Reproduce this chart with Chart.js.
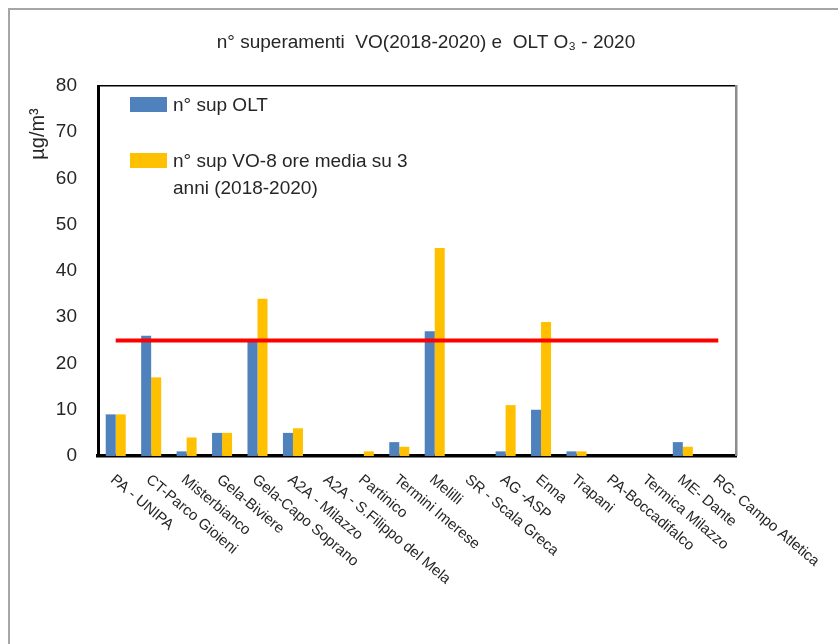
<!DOCTYPE html>
<html>
<head>
<meta charset="utf-8">
<script src="https://cdn.jsdelivr.net/npm/chart.js@4/dist/chart.umd.min.js"></script>
<style>
  html, body { margin: 0; padding: 0; background: #fff; overflow: hidden; }
  #wrap { position: relative; width: 838px; height: 644px; }
</style>
</head>
<body>
<div id="wrap"><canvas id="chart" width="838" height="644"></canvas></div>
<script>
try {

    // stations (x categories)
    const stations = [
      'PA - UNIPA', 'CT-Parco Gioieni', 'Misterbianco', 'Gela-Biviere',
      'Gela-Capo Soprano', 'A2A - Milazzo', 'A2A - S.Filippo del Mela',
      'Partinico', 'Termini Imerese', 'Melilli', 'SR - Scala Greca',
      'AG -ASP', 'Enna', 'Trapani', 'PA-Boccadifalco', 'Termica Milazzo',
      'ME- Dante', 'RG- Campo Atletica'
    ];

    // n° superamenti OLT 2020
    const supOLT = [9, 26, 1, 5, 25, 5, 0, 0, 3, 27, 0, 1, 10, 1, 0, 0, 3, 0];

    // n° superamenti VO, media 3 anni
    const supVO = [9, 17, 4, 5, 34, 6, 0, 1, 2, 45, 0, 11, 29, 1, 0, 0, 2, 0];

    // valore obiettivo (25 superamenti)
    const limitVO = [25, 25, 25, 25, 25, 25, 25, 25, 25, 25, 25, 25, 25, 25, 25, 25, 25, 25];

    const yTicks = [0, 10, 20, 30, 40, 50, 60, 70, 80];

    const titleText = 'n° superamenti  VO(2018-2020) e  OLT O\u2083 - 2020';
    const unitText = 'µg/m³';
    const legendLines = [
      ['n° sup OLT'],
      ['n° sup VO-8 ore media su 3', 'anni (2018-2020)']
    ];

    const FONT = '"Liberation Sans", Arial, sans-serif';
    const TXT = '#262626';

    // frame, title, legend, slanted labels
    const extras = {
      id: 'extras',
      beforeDraw(chart) {
        const ctx = chart.ctx;
        ctx.save();
        ctx.fillStyle = '#a6a6a6';
        ctx.fillRect(8, 8, 2, chart.height);
        ctx.fillRect(8, 8, chart.width, 2);
        ctx.restore();
      },
      afterDraw(chart) {
        const ctx = chart.ctx;
        const area = chart.chartArea;
        const xs = chart.scales.x;
        ctx.save();

        // top + right edges of the plot box
        ctx.fillStyle = '#000';
        ctx.fillRect(area.left, area.top - 1, area.right - area.left, 1.5);
        ctx.fillStyle = '#8c8c8c';
        ctx.fillRect(area.right - 1, area.top - 1, 2.5, area.bottom - area.top + 1);

        // title
        ctx.fillStyle = TXT;
        ctx.font = '19px ' + FONT;
        ctx.textAlign = 'center';
        ctx.textBaseline = 'middle';
        ctx.fillText(titleText, 426, 43);

        // unit
        ctx.save();
        ctx.translate(38, 134);
        ctx.rotate(-Math.PI / 2);
        ctx.font = '20px ' + FONT;
        ctx.fillText(unitText, 0, 0);
        ctx.restore();

        // legend
        ctx.font = '19px ' + FONT;
        ctx.textAlign = 'left';
        ctx.textBaseline = 'alphabetic';
        const rowsY = [area.top + 11, area.top + 67];
        legendLines.forEach((lines, i) => {
          const ds = chart.data.datasets[i];
          ctx.fillStyle = ds.backgroundColor;
          ctx.fillRect(area.left + 32, rowsY[i], 37, 15);
          ctx.fillStyle = TXT;
          lines.forEach((t, j) => {
            ctx.fillText(t, area.left + 75, rowsY[i] + 14 + j * 27);
          });
        });

        // slanted category labels
        ctx.font = '15px ' + FONT;
        ctx.fillStyle = TXT;
        stations.forEach((s, i) => {
          const x = xs.getPixelForValue(i);
          ctx.save();
          ctx.translate(x - 6, area.bottom + 25);
          ctx.rotate(40 * Math.PI / 180);
          ctx.fillText(s, 0, 0);
          ctx.restore();
        });

        ctx.restore();
      }
    };

    const chart = new Chart(document.getElementById('chart').getContext('2d'), {
      data: {
        labels: stations,
        datasets: [
          {
            type: 'bar',
            label: 'n° sup OLT',
            data: supOLT,
            backgroundColor: '#4f81bd',
            categoryPercentage: 0.565,
            barPercentage: 1.0,
            order: 1
          },
          {
            type: 'bar',
            label: 'n° sup VO-8 ore media su 3 anni (2018-2020)',
            data: supVO,
            backgroundColor: '#ffc000',
            categoryPercentage: 0.565,
            barPercentage: 1.0,
            order: 1
          },
          {
            type: 'line',
            label: 'VO',
            data: limitVO,
            borderColor: '#ff0000',
            borderWidth: 4,
            pointRadius: 0,
            fill: false,
            order: 0
          }
        ]
      },
      options: {
        responsive: false,
        animation: false,
        events: [],
        layout: { padding: { left: 38, top: 86, right: 102, bottom: 188 } },
        plugins: {
          legend: { display: false },
          title: { display: false },
          tooltip: { enabled: false }
        },
        scales: {
          x: {
            offset: true,
            grid: { display: false, drawTicks: false },
            border: { display: true, color: '#000', width: 3.5 },
            ticks: { display: false },
            afterFit: s => { s.height = 0; }
          },
          y: {
            min: 0,
            max: 80,
            afterBuildTicks: s => { s.ticks = yTicks.map(v => ({ value: v })); },
            grid: { display: false, drawTicks: false },
            border: { display: true, color: '#000', width: 3 },
            ticks: {
              padding: 21,
              color: TXT,
              font: { family: FONT, size: 19 }
            },
            afterFit: s => { s.width = 60; }
          }
        }
      },
      plugins: [extras]
    });

} catch (e) {
    console.log(e);
}
</script>
</body>
</html>
